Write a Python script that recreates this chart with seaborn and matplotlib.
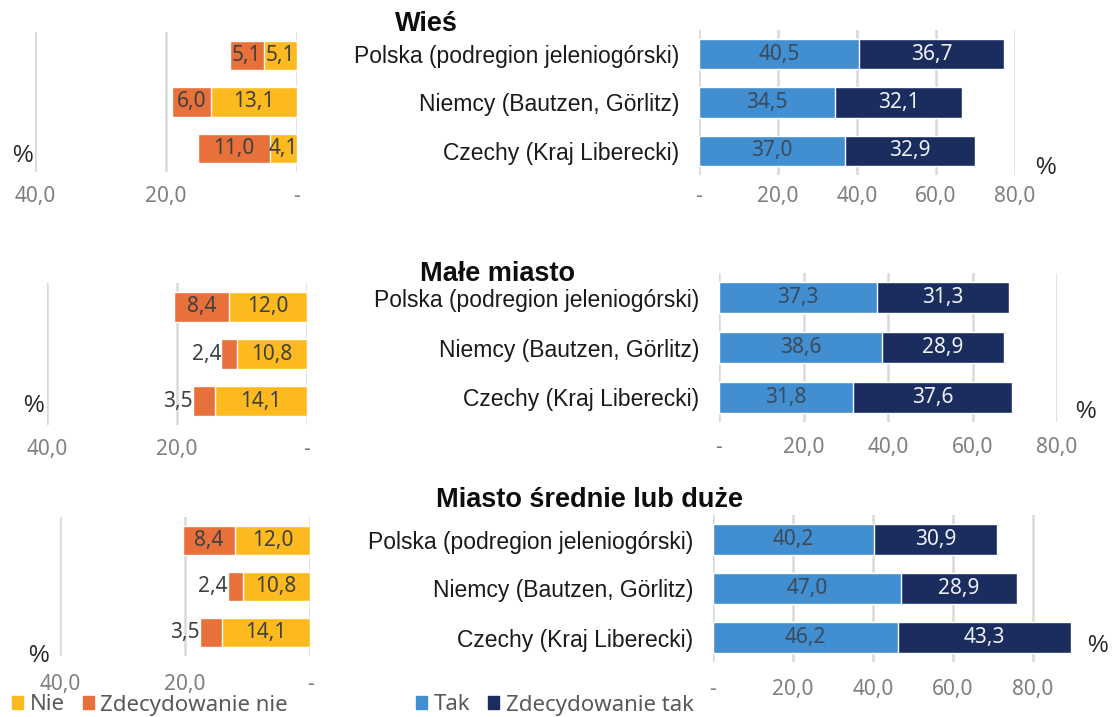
import matplotlib
matplotlib.use("Agg")
import matplotlib.pyplot as plt
from matplotlib.patches import Patch
from matplotlib.ticker import FixedLocator, FuncFormatter
import seaborn as sns
import pandas as pd

# ---- data ----
kraje = ["Polska (podregion jeleniogórski)",
         "Niemcy (Bautzen, Görlitz)",
         "Czechy (Kraj Liberecki)"]
tytuly = ["Wieś", "Małe miasto", "Miasto średnie lub duże"]

nie = [[5.1, 13.1, 4.1], [12.0, 10.8, 14.1], [12.0, 10.8, 14.1]]
zdec_nie = [[5.1, 6.0, 11.0], [8.4, 2.4, 3.5], [8.4, 2.4, 3.5]]
tak = [[40.5, 34.5, 37.0], [37.3, 38.6, 31.8], [40.2, 47.0, 46.2]]
zdec_tak = [[36.7, 32.1, 32.9], [31.3, 28.9, 37.6], [30.9, 28.9, 43.3]]

ticks_lewe = [0, 20, 40]
ticks_prawe = [0, 20, 40, 60, 80]

# ---- colours ----
C_NIE = "#FDBA1E"
C_ZNIE = "#E8703A"
C_TAK = "#418FD0"
C_ZTAK = "#1B2D5F"
C_GRID = "#D9D9D9"
C_TICK = "#7F7F7F"
C_TXT = "#404040"

sns.set_style("white")
plt.rcParams["font.family"] = ["Liberation Sans", "DejaVu Sans"]
NUM_FONT = ["Noto Sans", "DejaVu Sans"]
NUM_SIZE = 15

W, H = 1112, 717
fig = plt.figure(figsize=(W / 100, H / 100), dpi=100)


def rect(x0, x1, y0, y1):
    return [x0 / W, 1 - y1 / H, (x1 - x0) / W, (y1 - y0) / H]


# pixel frames of each panel: left axes (x at 40, x at 0, top, bottom),
# right axes (x at 0, right edge, top, bottom, xmax), tick pad, % positions,
# title centre
uklad = [
    dict(lewy=(35, 297, 32, 172), prawy=(699, 1015, 30, 175, 80),
         pad_l=10, pad_p=8, proc_l=(22, 155), proc_p=(1045, 167), tyt=(426, 24)),
    dict(lewy=(47, 307, 283, 425), prawy=(719, 1057, 273, 422, 80),
         pad_l=10, pad_p=11, proc_l=(33, 405), proc_p=(1085, 411), tyt=(497, 274)),
    dict(lewy=(60, 310, 517, 656), prawy=(713, 1073, 515, 662, 90),
         pad_l=13, pad_p=12, proc_l=(38, 656), proc_p=(1097, 645), tyt=(590, 500)),
]


def fmt(v, _=None):
    return "-" if abs(v) < 1e-9 else f"{v:.1f}".replace(".", ",")


def skumulowane(ax, wew, zew, c_wew, c_zew):
    df = pd.DataFrame({"kraj": kraje, "wew": wew,
                       "suma": [a + b for a, b in zip(wew, zew)]})
    sns.barplot(data=df, x="suma", y="kraj", color=c_zew, orient="h",
                width=0.63, saturation=1, errorbar=None, ax=ax, zorder=2)
    sns.barplot(data=df, x="wew", y="kraj", color=c_wew, orient="h",
                width=0.63, saturation=1, errorbar=None, ax=ax, zorder=3)
    return df


def styl_osi(ax, ticks, pad):
    ax.xaxis.set_major_locator(FixedLocator(ticks))
    ax.xaxis.set_major_formatter(FuncFormatter(fmt))
    ax.grid(False)
    ax.xaxis.grid(True, color=C_GRID, lw=1.8, zorder=0)
    ax.set_axisbelow(True)
    for s in ax.spines.values():
        s.set_visible(False)
    ax.tick_params(axis="x", length=0, pad=pad, labelcolor=C_TICK,
                   labelsize=NUM_SIZE)
    for t in ax.get_xticklabels():
        t.set_fontfamily(NUM_FONT)
    ax.set_xlabel("")
    ax.set_ylabel("")
    ax.set_ylim(2.5, -0.5)


for i, u in enumerate(uklad):
    # ---- left: negative answers ----
    x0, x1, y0, y1 = u["lewy"]
    axl = fig.add_axes(rect(x0, x1, y0, y1))
    skumulowane(axl, nie[i], zdec_nie[i], C_NIE, C_ZNIE)
    axl.set_xlim(40, 0)
    styl_osi(axl, ticks_lewe, u["pad_l"])
    axl.set_yticks([])
    for j in range(3):
        a, b = nie[i][j], zdec_nie[i][j]
        axl.text(a / 2, j, fmt(a), ha="center", va="center", fontsize=NUM_SIZE,
                 color=C_TXT, family=NUM_FONT, zorder=5)
        if b >= 4:
            axl.text(a + b / 2, j, fmt(b), ha="center", va="center",
                     fontsize=NUM_SIZE, color=C_TXT, family=NUM_FONT, zorder=5)
        else:
            axl.text(a + b, j, fmt(b), ha="right", va="center",
                     fontsize=NUM_SIZE, color=C_TXT, family=NUM_FONT, zorder=5)

    # ---- right: positive answers ----
    x0, x1, y0, y1, xmax = u["prawy"]
    axr = fig.add_axes(rect(x0, x1, y0, y1))
    skumulowane(axr, tak[i], zdec_tak[i], C_TAK, C_ZTAK)
    axr.set_xlim(0, xmax)
    styl_osi(axr, ticks_prawe, u["pad_p"])
    axr.tick_params(axis="y", length=0, pad=14, labelsize=16.5,
                    labelcolor="#1A1A1A")
    for j in range(3):
        a, b = tak[i][j], zdec_tak[i][j]
        axr.text(a / 2, j, fmt(a), ha="center", va="center", fontsize=NUM_SIZE,
                 color="#3A4A5C", family=NUM_FONT, zorder=5)
        axr.text(a + b / 2, j, fmt(b), ha="center", va="center",
                 fontsize=NUM_SIZE, color="#EEF1F7", family=NUM_FONT, zorder=5)

    # ---- titles and unit marks ----
    tx, ty = u["tyt"]
    fig.text(tx / W, 1 - ty / H, tytuly[i], ha="center", va="center",
             fontsize=19.5, fontweight="bold", color="#0D0D0D")
    for (px, py) in (u["proc_l"], u["proc_p"]):
        fig.text(px / W, 1 - py / H, "%", ha="center", va="center",
                 fontsize=16.5, color="#262626")

# ---- legends ----
leg_kw = dict(loc="center left", ncol=2, frameon=False, handlelength=0.5,
              handleheight=0.5, handletextpad=0.3, columnspacing=0.8,
              borderpad=0, borderaxespad=0,
              prop={"family": NUM_FONT, "size": 16}, labelcolor="#595959")
fig.legend(handles=[Patch(color=C_NIE), Patch(color=C_ZNIE)],
           labels=["Nie", "Zdecydowanie nie"],
           bbox_to_anchor=(12 / W, 1 - 705 / H), **leg_kw)
fig.legend(handles=[Patch(color=C_TAK), Patch(color=C_ZTAK)],
           labels=["Tak", "Zdecydowanie tak"],
           bbox_to_anchor=(416 / W, 1 - 705 / H), **leg_kw)

fig.savefig("out.png", dpi=100)
